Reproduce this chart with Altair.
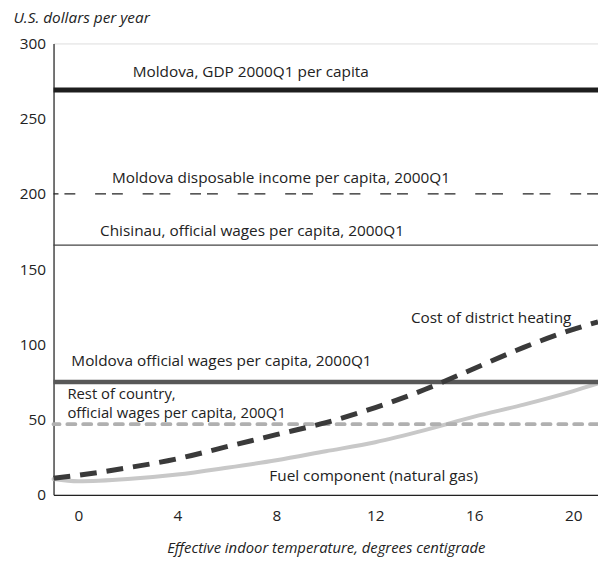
import altair as alt
import pandas as pd

# Data
temps = [-1, 0, 2, 4, 6, 8, 10, 12, 14, 16, 18, 20, 21]
district_heating = [11, 13, 18, 24, 32, 40, 48, 58, 70, 84, 98, 110, 115]
fuel_component = [10.5, 9, 10.5, 13.5, 18, 23, 29, 35, 43, 52, 60, 69, 74]

gdp_level = [269]
disposable_level = [200]
chisinau_level = [166]
moldova_wages_level = [75]
rest_level = [47]

label_texts = [
    "Moldova, GDP 2000Q1 per capita",
    "Moldova disposable income per capita, 2000Q1",
    "Chisinau, official wages per capita, 2000Q1",
    "Cost of district heating",
    "Moldova official wages per capita, 2000Q1",
    "Rest of country,",
    "official wages per capita, 200Q1",
    "Fuel component (natural gas)",
]
label_x = [2.2, 1.36, 0.88, 13.44, -0.28, -0.44, -0.44, 7.72]
label_y = [281, 210.5, 175, 117.8, 88.8, 67.0, 54.3, 12.5]
label_size = [15.5, 15.5, 15.5, 15.5, 15.5, 15, 15, 15.5]

FONT = "Open Sans"

xscale = alt.Scale(domain=[-1, 21], nice=False, zero=False)
yscale = alt.Scale(domain=[0, 300], nice=False)

curves = pd.DataFrame({"t": temps, "dh": district_heating, "fuel": fuel_component})

x_enc = alt.X(
    "t:Q", scale=xscale,
    axis=alt.Axis(values=[0, 4, 8, 12, 16, 20], ticks=False, grid=False,
                  labelFontSize=15.5, labelPadding=14, labelFont=FONT, labelColor="#222",
                  domainColor="#222", domainWidth=1.2,
                  title="Effective indoor temperature, degrees centigrade",
                  titleFont=FONT, titleFontSize=15, titleFontStyle="italic",
                  titleFontWeight="normal", titleColor="#222", titlePadding=17),
)
y_axis = alt.Axis(values=[0, 50, 100, 150, 200, 250, 300], ticks=False, grid=False,
                  labelFontSize=15.5, labelPadding=8, labelFont=FONT, labelColor="#222",
                  domainColor="#222", domainWidth=1.2,
                  title="U.S. dollars per year", titleAngle=0, titleAlign="left",
                  titleBaseline="middle", titleX=-41, titleY=-26,
                  titleFont=FONT, titleFontSize=15.5, titleFontStyle="italic",
                  titleFontWeight="normal", titleColor="#222")

fuel_line = alt.Chart(curves).mark_line(
    color="#c8c8c8", strokeWidth=4, interpolate="monotone", strokeCap="round"
).encode(x=x_enc, y=alt.Y("fuel:Q", scale=yscale, axis=y_axis))

dh_line = alt.Chart(curves).mark_line(
    color="#3a3a3a", strokeWidth=5, interpolate="monotone", strokeDash=[17, 10]
).encode(x=alt.X("t:Q", scale=xscale), y=alt.Y("dh:Q", scale=yscale))

def hrule(vals, **style):
    return alt.Chart(pd.DataFrame({"v": vals})).mark_rule(**style).encode(
        y=alt.Y("v:Q", scale=yscale)
    )

gdp = hrule(gdp_level, color="#1e1e1e", strokeWidth=5)
disp = hrule(disposable_level, color="#222", strokeWidth=1.2, strokeDash=[11, 6, 11, 20])
chis = hrule(chisinau_level, color="#444", strokeWidth=1.3)
mwages = hrule(moldova_wages_level, color="#585858", strokeWidth=4.5)
rest = hrule(rest_level, color="#b0b0b0", strokeWidth=4, strokeDash=[8, 8], strokeCap="round")

labels = alt.Chart(pd.DataFrame({"x": label_x, "y": label_y, "text": label_texts,
                                 "s": label_size})).mark_text(
    align="left", baseline="middle", font=FONT, color="#222"
).encode(x=alt.X("x:Q", scale=xscale), y=alt.Y("y:Q", scale=yscale), text="text:N",
         size=alt.Size("s:Q", scale=None, legend=None))

chart = alt.layer(
    fuel_line, rest, mwages, chis, disp, gdp, dh_line, labels
).properties(
    width=550, height=456,
    padding={"left": 46, "top": 33, "right": 0, "bottom": 64},
    autosize=alt.AutoSizeParams(type="none"),
).configure_view(stroke=None).configure(background="white")

chart.save("out.html", embed_options={"renderer": "svg", "actions": False})
